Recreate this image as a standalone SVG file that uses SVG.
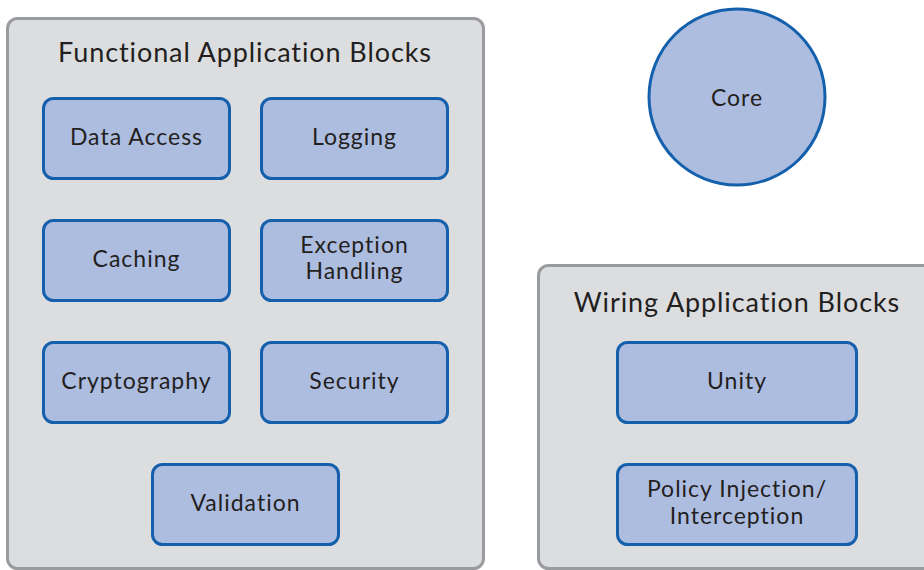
<svg xmlns="http://www.w3.org/2000/svg" width="924" height="570" viewBox="0 0 924 570">
  <style>
    .group { fill: #dcdddf; stroke: #9a9b9e; stroke-width: 3; }
    .block { fill: #adbde0; stroke: #1560ac; stroke-width: 3; }
    .title { font-family: Lato, "Open Sans", sans-serif; font-size: 27px; letter-spacing: 0.9px; fill: #231f20; text-anchor: middle; }
    .label { font-family: Lato, "Open Sans", sans-serif; font-size: 23px; letter-spacing: 1px; fill: #231f20; text-anchor: middle; }
  </style>
  <rect width="924" height="570" fill="#ffffff"/>

  <!-- Functional application blocks container -->
  <g id="functional">
    <rect class="group" x="7.5" y="18.5" width="476" height="550" rx="10"/>
    <text class="title" x="245" y="62">Functional Application Blocks</text>
  </g>
  <g id="data-access">
    <rect class="block" x="43.5" y="98.5" width="186" height="80" rx="10"/>
    <text class="label" x="136.5" y="145">Data Access</text>
  </g>
  <g id="logging">
    <rect class="block" x="261.5" y="98.5" width="186" height="80" rx="10"/>
    <text class="label" x="354.5" y="145">Logging</text>
  </g>
  <g id="caching">
    <rect class="block" x="43.5" y="220.5" width="186" height="80" rx="10"/>
    <text class="label" x="136.5" y="267">Caching</text>
  </g>
  <g id="exception-handling">
    <rect class="block" x="261.5" y="220.5" width="186" height="80" rx="10"/>
    <text class="label" x="354.5" y="253">Exception</text>
    <text class="label" x="354.5" y="279">Handling</text>
  </g>
  <g id="cryptography">
    <rect class="block" x="43.5" y="342.5" width="186" height="80" rx="10"/>
    <text class="label" x="136.5" y="389">Cryptography</text>
  </g>
  <g id="security">
    <rect class="block" x="261.5" y="342.5" width="186" height="80" rx="10"/>
    <text class="label" x="354.5" y="389">Security</text>
  </g>
  <g id="validation">
    <rect class="block" x="152.5" y="464.5" width="186" height="80" rx="10"/>
    <text class="label" x="245.5" y="511">Validation</text>
  </g>

  <!-- Core -->
  <g id="core">
    <circle class="block" cx="737" cy="97" r="88"/>
    <text class="label" x="737" y="106">Core</text>
  </g>

  <!-- Wiring application blocks container -->
  <g id="wiring">
    <rect class="group" x="538.5" y="265.5" width="400" height="303" rx="10"/>
    <text class="title" x="737" y="312">Wiring Application Blocks</text>
  </g>
  <g id="unity">
    <rect class="block" x="617.5" y="342.5" width="239" height="80" rx="10"/>
    <text class="label" x="737" y="389">Unity</text>
  </g>
  <g id="policy-injection">
    <rect class="block" x="617.5" y="464.5" width="239" height="80" rx="10"/>
    <text class="label" x="737" y="497">Policy Injection/</text>
    <text class="label" x="737" y="524">Interception</text>
  </g>

  <g id="connectors"/>
</svg>
